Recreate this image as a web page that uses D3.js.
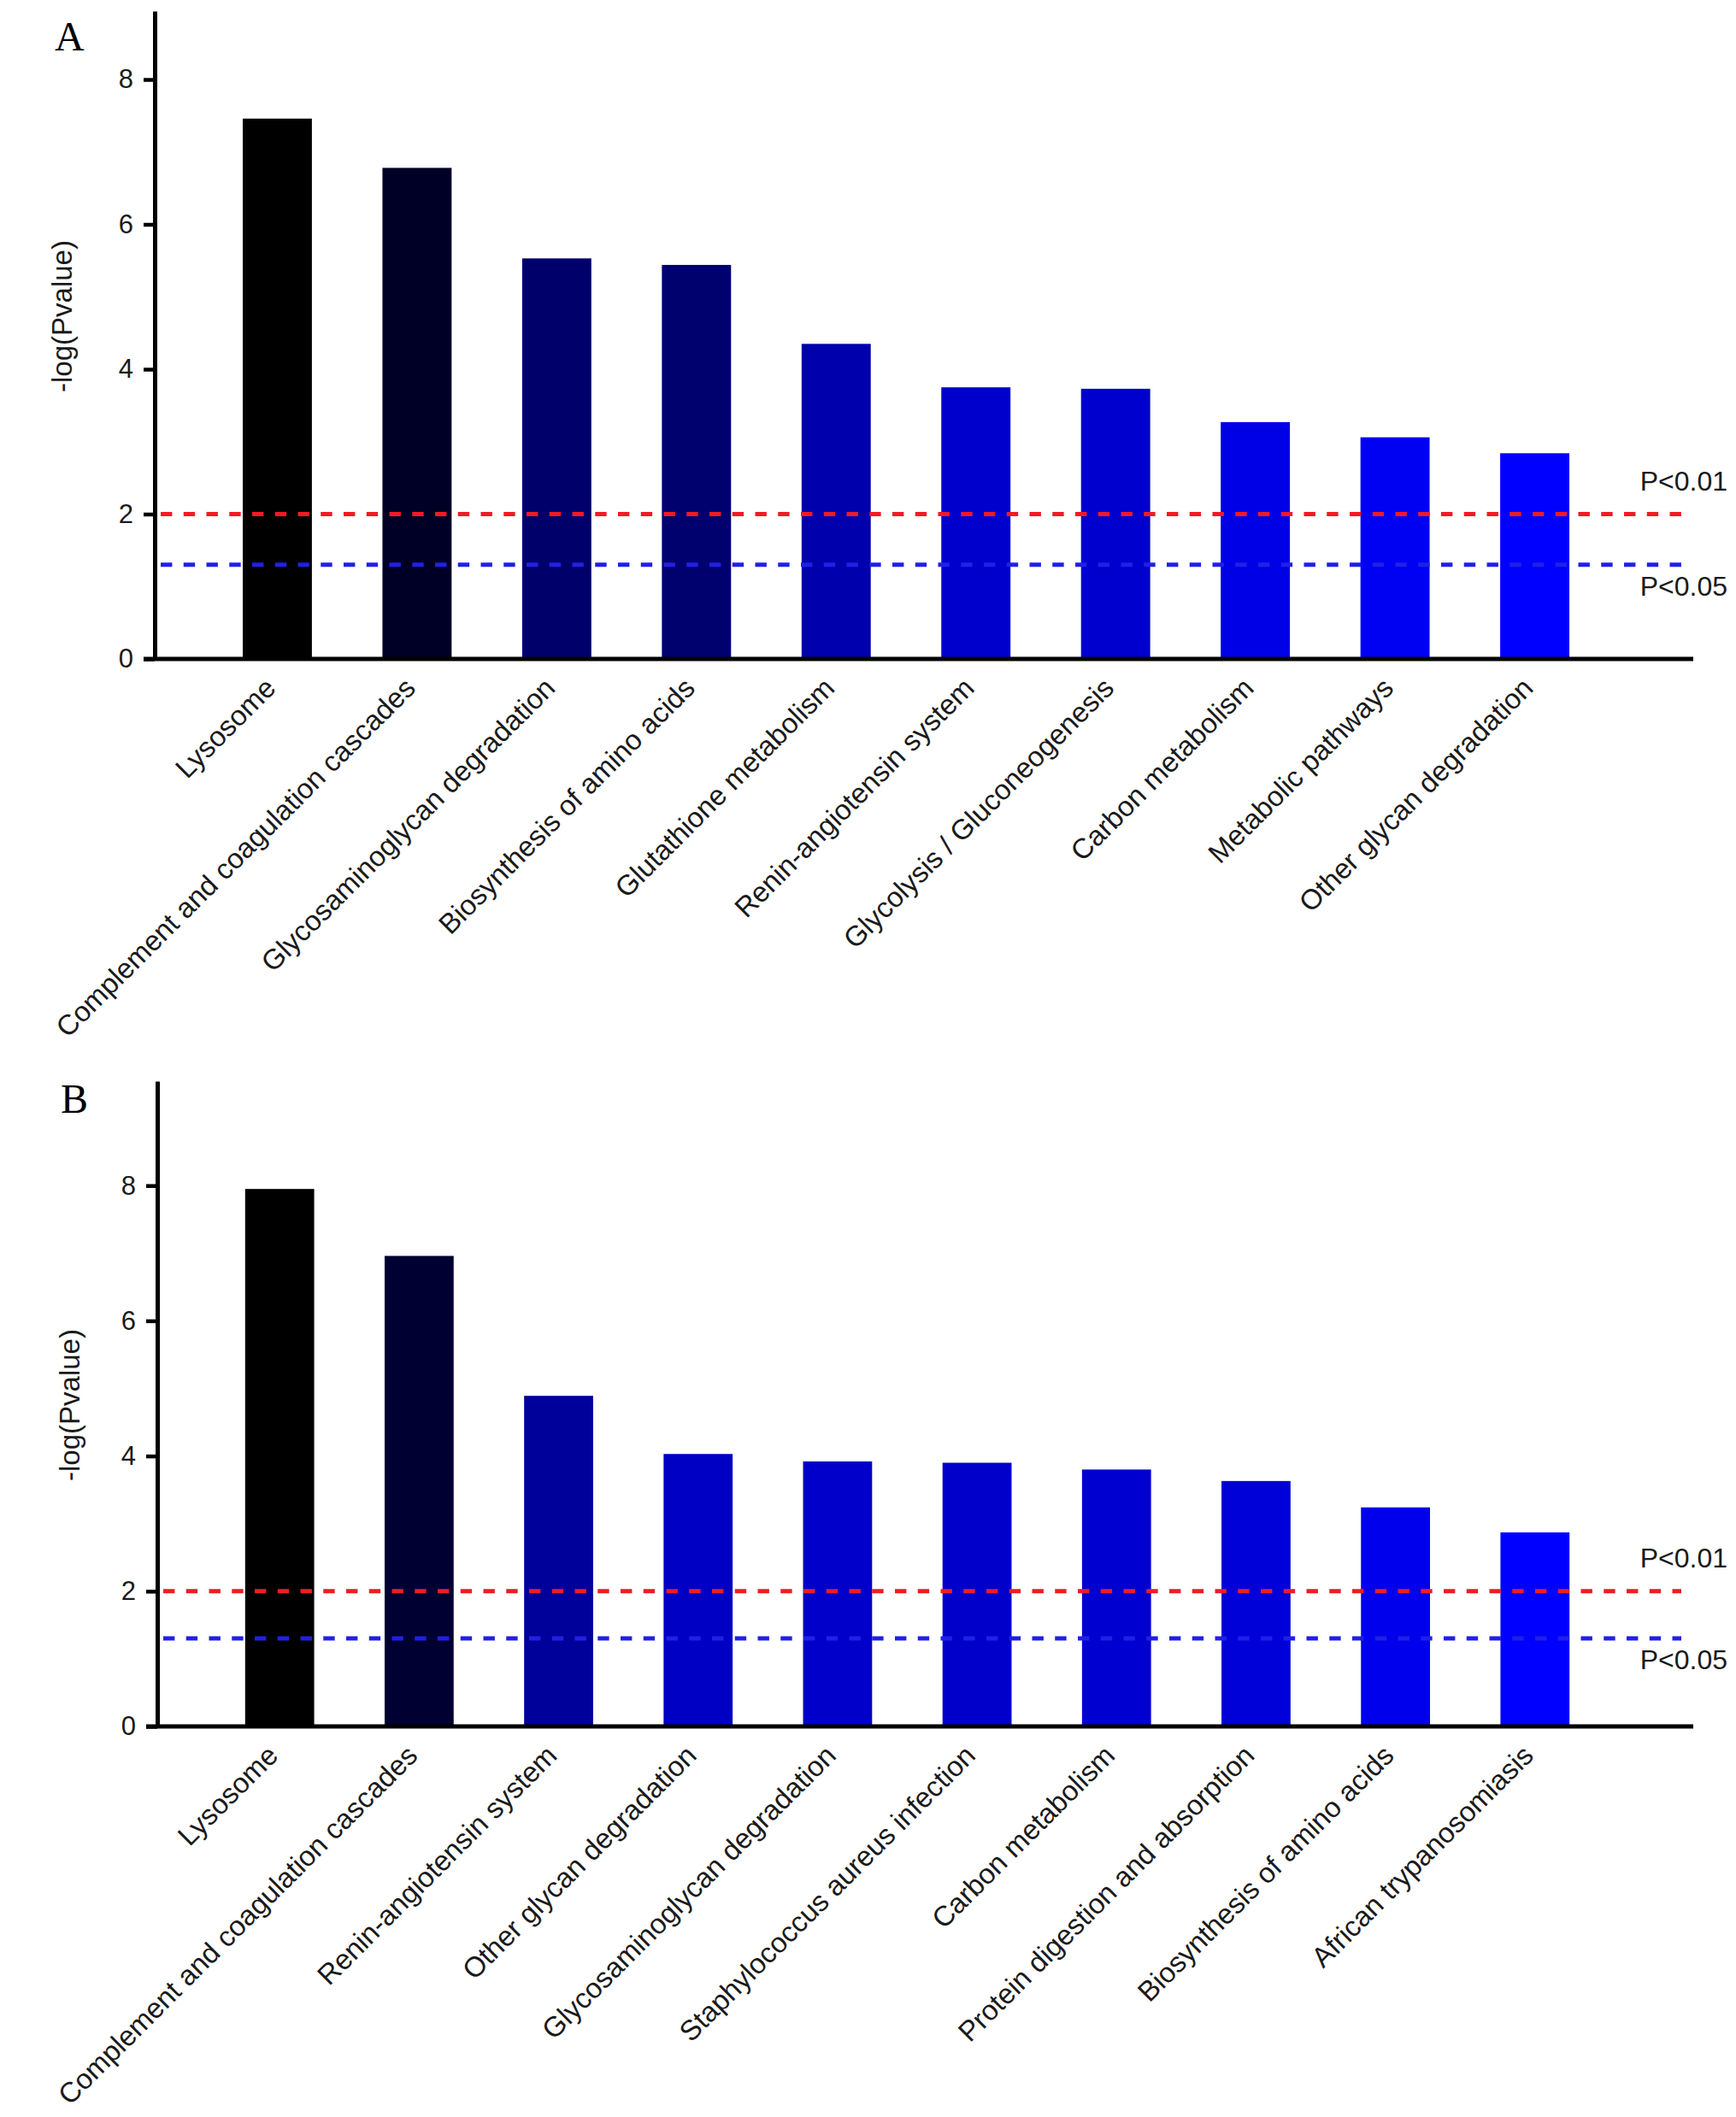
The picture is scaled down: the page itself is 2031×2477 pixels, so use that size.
<!DOCTYPE html>
<html>
<head>
<meta charset="utf-8">
<script src="https://cdn.jsdelivr.net/npm/d3@7"></script>
<style>
  body { margin: 0; background: #fff; }
  svg { display: block; }
</style>
</head>
<body>
<script>
// panel A data
let categoriesA = ['Lysosome', 'Complement and coagulation cascades', 'Glycosaminoglycan degradation',
    'Biosynthesis of amino acids', 'Glutathione metabolism', 'Renin-angiotensin system',
    'Glycolysis / Gluconeogenesis', 'Carbon metabolism', 'Metabolic pathways', 'Other glycan degradation'];
let valuesA = [7.46, 6.78, 5.53, 5.44, 4.35, 3.75, 3.73, 3.27, 3.06, 2.84];

// panel B data
let categoriesB = ['Lysosome', 'Complement and coagulation cascades', 'Renin-angiotensin system',
    'Other glycan degradation', 'Glycosaminoglycan degradation', 'Staphylococcus aureus infection',
    'Carbon metabolism', 'Protein digestion and absorption', 'Biosynthesis of amino acids',
    'African trypanosomiasis'];
let valuesB = [7.95, 6.96, 4.89, 4.03, 3.92, 3.90, 3.80, 3.63, 3.24, 2.87];

let yTicks = [0, 2, 4, 6, 8];
let thresholdLabels = ['P<0.01', 'P<0.05'];
let thresholdValues = [2, 1.301];

let width = 2031, height = 2477;
let sansFont = "'Liberation Sans', Arial, Helvetica, sans-serif";
let serifFont = "'Liberation Serif', 'Times New Roman', serif";

let svg = d3.select('body').append('svg')
    .attr('width', width)
    .attr('height', height)
    .attr('viewBox', '0 0 ' + width + ' ' + height);

svg.append('rect').attr('width', width).attr('height', height).attr('fill', '#fff');

function drawPanel(p) {

    let g = svg.append('g');

    // scales
    let x = d3.scaleBand()
        .domain(p.categories)
        .range([p.left, p.bandEnd])
        .paddingInner(0.505)
        .paddingOuter(0.63);

    let y = d3.scaleLinear()
        .domain([0, p.yMax])
        .range([p.bottom, p.top]);

    let color = d3.scaleLinear()
        .domain([d3.max(p.values), d3.min(p.values)])
        .range(['#000000', '#0000ff']);

    // bars
    g.selectAll('rect.bar')
        .data(p.values)
        .enter().append('rect')
        .attr('class', 'bar')
        .attr('x', function(d, i){ return x(p.categories[i]); })
        .attr('y', function(d){ return y(d); })
        .attr('width', x.bandwidth())
        .attr('height', function(d){ return y(0) - y(d); })
        .attr('fill', function(d){ return color(d); });

    // threshold lines, on top of the bars
    let lineColors = ['#ee1c25', '#2020e6'];
    g.selectAll('line.thr')
        .data(thresholdValues)
        .enter().append('line')
        .attr('class', 'thr')
        .attr('x1', p.left + 7)
        .attr('x2', 1967)
        .attr('y1', function(d){ return y(d); })
        .attr('y2', function(d){ return y(d); })
        .attr('stroke', function(d, i){ return lineColors[i]; })
        .attr('stroke-width', 5)
        .attr('stroke-dasharray', '13.4 13.35');

    g.selectAll('text.thr')
        .data(thresholdValues)
        .enter().append('text')
        .attr('class', 'thr')
        .attr('x', 2021)
        .attr('y', function(d, i){ return i === 0 ? y(d) - 28 : y(d) + 36; })
        .attr('text-anchor', 'end')
        .style('font-family', sansFont)
        .style('font-size', '32px')
        .style('fill', '#1a1a1a')
        .text(function(d, i){ return thresholdLabels[i]; });

    // y axis
    let yAxis = g.append('g')
        .attr('transform', 'translate(' + p.left + ',0)')
        .call(d3.axisLeft(y).tickValues(yTicks).tickSize(13).tickSizeOuter(0).tickPadding(12));

    yAxis.select('.domain').attr('stroke', '#000').attr('stroke-width', 5);
    yAxis.selectAll('.tick line').attr('stroke', '#000').attr('stroke-width', 4.5);
    yAxis.selectAll('.tick text')
        .style('font-family', sansFont)
        .style('font-size', '31px')
        .style('fill', '#1a1a1a');

    // x axis line
    g.append('line')
        .attr('x1', p.left - 13)
        .attr('x2', 1981)
        .attr('y1', y(0))
        .attr('y2', y(0))
        .attr('stroke', '#000')
        .attr('stroke-width', 5);

    // rotated category labels
    g.selectAll('text.cat')
        .data(p.categories)
        .enter().append('text')
        .attr('class', 'cat')
        .attr('text-anchor', 'end')
        .attr('transform', function(d){
            let cx = x(d) + x.bandwidth() / 2;
            return 'translate(' + cx + ',' + (y(0) + 36) + ') rotate(-45)';
        })
        .style('font-family', sansFont)
        .style('font-size', '33px')
        .style('fill', '#1a1a1a')
        .text(function(d){ return d; });

    // y label
    g.append('text')
        .attr('transform', 'translate(' + p.labelX + ',' + p.labelY + ') rotate(-90)')
        .attr('text-anchor', 'middle')
        .style('font-family', sansFont)
        .style('font-size', '33px')
        .style('fill', '#1a1a1a')
        .text('-log(Pvalue)');

    // panel letter
    g.append('text')
        .attr('x', p.letterX)
        .attr('y', p.letterY)
        .style('font-family', serifFont)
        .style('font-size', '48px')
        .style('fill', '#000')
        .text(p.letter);
}

drawPanel({
    letter: 'A', letterX: 64, letterY: 59,
    categories: categoriesA, values: valuesA,
    left: 181, bandEnd: 1939, bottom: 771, top: 13, yMax: 8.944,
    labelX: 84, labelY: 370
});

drawPanel({
    letter: 'B', letterX: 71, letterY: 1302,
    categories: categoriesB, values: valuesB,
    left: 184, bandEnd: 1939, bottom: 2020, top: 1265, yMax: 9.545,
    labelX: 93, labelY: 1644
});
</script>
</body>
</html>
